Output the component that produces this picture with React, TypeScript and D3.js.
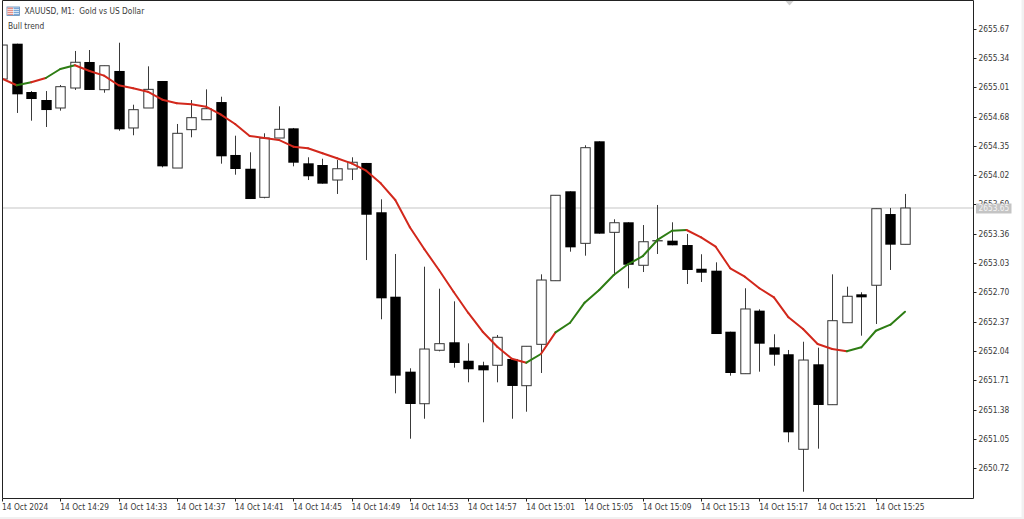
import React from "react";
import * as d3 from "d3";

const W = 1024, H = 519;
const frame = { l: 2.5, t: 0.5, r: 973.5, b: 498.5 };

const open = [2655.102,2655.50,2654.956,2654.866,2654.776,2655.001,2655.294,2654.982,2655.193,2654.551,2654.776,2655.08,2654.10,2654.532,2654.644,2654.843,2654.247,2654.092,2653.77,2654.438,2654.547,2654.153,2654.134,2653.965,2654.089,2654.157,2653.602,2652.651,2651.807,2651.446,2652.048,2652.138,2651.93,2651.879,2651.879,2651.95,2651.649,2652.115,2652.831,2653.838,2653.252,2654.401,2653.376,2653.489,2653.005,2653.286,2653.282,2653.233,2652.966,2652.944,2652.257,2651.784,2652.494,2652.081,2652.003,2650.933,2651.89,2651.435,2652.358,2652.678,2652.78,2653.582,2653.241];
const high = [2655.485,2655.50,2654.967,2654.967,2655.035,2655.418,2655.429,2655.252,2655.511,2654.813,2655.245,2655.08,2654.596,2654.866,2654.986,2654.903,2654.464,2654.277,2654.491,2654.795,2654.551,2654.221,2654.205,2654.19,2654.221,2654.157,2653.748,2653.132,2651.845,2652.989,2652.741,2652.599,2652.126,2651.919,2652.22,2651.95,2652.093,2652.903,2653.793,2653.838,2654.356,2654.401,2653.523,2653.489,2653.458,2653.684,2653.489,2653.357,2653.129,2653.038,2652.257,2652.746,2652.509,2652.228,2652.051,2652.144,2652.077,2652.903,2652.764,2652.701,2653.642,2653.65,2653.808];
const low = [2655.102,2654.72,2654.633,2654.562,2654.746,2654.979,2654.979,2654.948,2654.52,2654.469,2654.776,2654.108,2654.10,2654.446,2654.644,2654.149,2654.025,2653.751,2653.759,2654.438,2654.119,2653.965,2653.924,2653.808,2653.965,2653.064,2652.397,2651.563,2651.052,2651.277,2652.036,2651.852,2651.687,2651.237,2651.687,2651.277,2651.356,2651.792,2652.831,2653.158,2653.113,2653.361,2652.895,2652.746,2652.929,2653.132,2653.23,2652.794,2652.817,2652.231,2651.762,2651.784,2651.807,2651.874,2651.012,2650.455,2650.94,2651.435,2652.358,2652.212,2652.344,2652.952,2653.241];
const close = [2655.485,2654.93,2654.877,2654.753,2655.016,2655.291,2654.979,2655.252,2654.536,2654.757,2654.986,2654.119,2654.491,2654.667,2654.768,2654.232,2654.089,2653.751,2654.438,2654.536,2654.16,2654.007,2653.924,2654.092,2654.165,2653.574,2652.633,2651.762,2651.443,2652.062,2652.122,2651.905,2651.834,2651.822,2652.194,2651.646,2652.093,2652.839,2653.793,2653.207,2654.329,2653.361,2653.484,2653.011,2653.27,2653.28,2653.23,2652.952,2652.921,2652.231,2651.792,2652.513,2652.122,2651.998,2651.124,2651.938,2651.432,2652.381,2652.656,2652.644,2653.642,2653.237,2653.65];
const maValues = [2655.106,2655.032,2655.065,2655.114,2655.215,2655.257,2655.193,2655.14,2655.032,2654.998,2654.959,2654.869,2654.829,2654.818,2654.791,2654.705,2654.596,2654.461,2654.438,2654.416,2654.34,2654.322,2654.266,2654.21,2654.153,2654.07,2653.928,2653.74,2653.433,2653.185,2652.952,2652.707,2652.471,2652.257,2652.088,2651.953,2651.908,2652.006,2652.25,2652.358,2652.584,2652.727,2652.895,2653.019,2653.109,2653.29,2653.394,2653.402,2653.32,2653.214,2652.971,2652.876,2652.746,2652.644,2652.419,2652.287,2652.119,2652.062,2652.036,2652.081,2652.268,2652.336,2652.482];
// 1 = bull segment (green), 0 = bear segment (red); one entry per segment of the line
const maTrend = [0,1,0,1,1,0,0,0,0,0,0,0,0,0,0,0,0,0,0,0,0,0,0,0,0,0,0,0,0,0,0,0,0,0,0,0,1,0,1,1,1,1,1,1,1,1,1,0,0,0,0,0,0,0,0,0,0,0,1,1,1,1];

const priceTicks = [2655.67,2655.34,2655.01,2654.68,2654.35,2654.02,2653.69,2653.36,2653.03,2652.70,2652.37,2652.04,2651.71,2651.38,2651.05,2650.72];
const timeTickIdx = [0,4,8,12,16,20,24,28,32,36,40,44,48,52,56,60];
const timeTickLabels = ["14 Oct 2024","14 Oct 14:29","14 Oct 14:33","14 Oct 14:37","14 Oct 14:41","14 Oct 14:45","14 Oct 14:49","14 Oct 14:53","14 Oct 14:57","14 Oct 15:01","14 Oct 15:05","14 Oct 15:09","14 Oct 15:13","14 Oct 15:17","14 Oct 15:21","14 Oct 15:25"];
const currentPrice = 2653.65;

const x = d3.scaleLinear().domain([0, 62]).range([2.1, 905]);
const y = d3.scaleLinear().domain([2655.67, 2650.72]).range([28.6, 468.2]);
const FONT = "'DejaVu Sans Condensed', 'DejaVu Sans', sans-serif";
const FS = 8.3;
const BODY = 9.4;
const BLACK = "#000", GREEN = "#2e7d14", RED = "#d2281c", TXT = "#3a3a3a";

export default function App() {
  const lineGen = d3.line<[number, number]>().x(d => x(d[0])).y(d => y(d[1]));
  const indices = d3.range(open.length);
  return (
    <svg width={W} height={H} style={{ position: "absolute", left: 0, top: 0, fontStretch: "condensed" }} fontFamily={FONT}>
      <rect width={W} height={H} fill="#f1f1f1" />
      <rect width={1021.5} height={517} fill="#fff" />
      <defs>
        <clipPath id="plot"><rect x={frame.l} y={frame.t} width={frame.r - frame.l} height={frame.b - frame.t} /></clipPath>
      </defs>

      <line x1={frame.l} x2={frame.r} y1={y(currentPrice)} y2={y(currentPrice)} stroke="#d9d9d9" strokeWidth={1.6} />

      <g clipPath="url(#plot)">
        {indices.map(i => {
          const up = close[i] >= open[i];
          const top = y(Math.max(open[i], close[i]));
          const bot = y(Math.min(open[i], close[i]));
          const cx = Math.round(x(i)) + 0.5;
          return (
            <g key={i}>
              <line x1={cx} x2={cx} y1={y(high[i])} y2={y(low[i])} stroke="#3a3a3a" strokeWidth={1} />
              {up
                ? <rect x={cx - BODY / 2} y={top} width={BODY} height={Math.max(bot - top, 1)} fill="#fff" stroke="#333" strokeWidth={1} />
                : <rect x={cx - BODY / 2 - 0.5} y={top} width={BODY + 1} height={Math.max(bot - top, 1)} fill={BLACK} />}
            </g>
          );
        })}
        {maTrend.map((t, i) => (
          <path key={i} d={lineGen([[i, maValues[i]], [i + 1, maValues[i + 1]]]) ?? ""}
            stroke={t ? GREEN : RED} strokeWidth={2} fill="none" strokeLinecap="round" />
        ))}
      </g>

      <path d="M785 0.5h9l-4.5 5z" fill="#cfcfcf" />

      <path d={`M${frame.l} ${frame.b}V${frame.t}H${frame.r}V${frame.b}Z`} fill="none" stroke="#222" strokeWidth={1} />

      {priceTicks.map(p => (
        <g key={p}>
          <line x1={frame.r} x2={frame.r + 3} y1={Math.round(y(p)) + 0.5} y2={Math.round(y(p)) + 0.5} stroke="#222" />
          <text x={978.5} y={y(p) + 3} fontSize={FS} fill={TXT}>{p.toFixed(2)}</text>
        </g>
      ))}
      <rect x={976} y={y(currentPrice) - 4.5} width={35.5} height={10} fill="#c4c4c4" />
      <text x={978.5} y={y(currentPrice) + 3.3} fontSize={FS} fill="#f4f4f4">{currentPrice.toFixed(2)}</text>

      {timeTickIdx.map((idx, k) => (
        <g key={idx}>
          <line x1={Math.round(x(idx)) + 0.5} x2={Math.round(x(idx)) + 0.5} y1={frame.b} y2={frame.b + 3} stroke="#222" />
          <text x={x(idx)} y={509.5} fontSize={FS} fill={TXT}>{timeTickLabels[k]}</text>
        </g>
      ))}

      <g>
        <rect x={7} y={7} width={12.5} height={8.5} fill="#fff" stroke="#5b87b5" strokeWidth={0.8} />
        <rect x={7.5} y={7.5} width={5.5} height={7.5} fill="#e58e86" />
        <rect x={13.5} y={7.5} width={5.5} height={7.5} fill="#79a9d9" />
        <path d="M7.5 9.5H19M7.5 11.5H19M7.5 13.5H19" stroke="#fff" strokeWidth={0.7} />
      </g>
      <text x={24.5} y={13.8} fontSize={FS} fill={TXT}>{"XAUUSD, M1:\u00a0\u00a0Gold vs US Dollar"}</text>
      <text x={8} y={29} fontSize={FS} fill={TXT}>Bull trend</text>
    </svg>
  );
}
